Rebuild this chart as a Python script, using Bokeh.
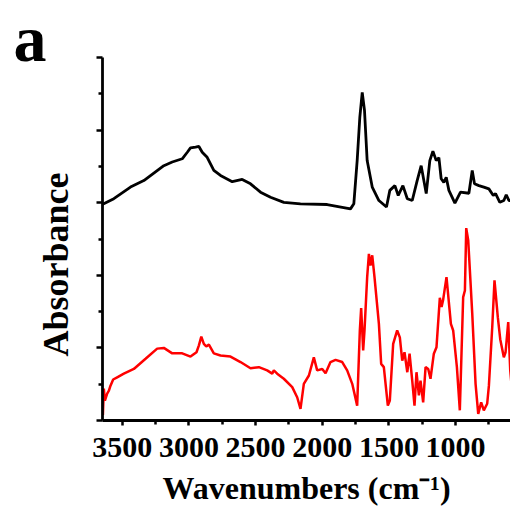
from bokeh.plotting import figure
from bokeh.models import Range1d, FixedTicker, Title
from bokeh.embed import file_html
from bokeh.resources import INLINE

# ---- data ----
black_wn = [3650, 3563, 3438, 3338, 3188, 3125, 3050, 3012, 2988, 2950, 2925, 2900, 2863, 2813,
            2763, 2675, 2600, 2538, 2463, 2388, 2288, 2163, 1963, 1788, 1763, 1738, 1718, 1700,
            1683, 1663, 1625, 1575, 1518, 1493, 1455, 1430, 1395, 1362, 1325, 1288, 1258, 1220,
            1193, 1170, 1145, 1125, 1108, 1088, 1070, 1050, 1005, 963, 900, 875, 858, 825, 788,
            750, 717, 700, 668, 638, 620, 600, 585]
black_abs = [5.95, 6.11, 6.43, 6.61, 7.02, 7.12, 7.21, 7.39, 7.51, 7.53, 7.55, 7.39, 7.25, 6.89,
             6.75, 6.58, 6.64, 6.52, 6.29, 6.15, 6.01, 5.97, 5.95, 5.83, 5.97, 7.16, 8.36, 9.04,
             8.54, 7.16, 6.43, 6.06, 5.88, 6.34, 6.47, 6.20, 6.47, 6.11, 6.06, 6.61, 7.02, 6.25,
             7.16, 7.42, 7.16, 7.24, 6.66, 6.56, 6.70, 6.34, 5.99, 6.29, 6.26, 6.89, 6.52, 6.47, 6.43,
             6.38, 6.20, 6.25, 6.01, 6.06, 6.22, 6.06, 6.06]

red_wn = [3645, 3638, 3630, 3613, 3600, 3588, 3568, 3538, 3488, 3413, 3325, 3238, 3188, 3125, 3050,
          2988, 2943, 2925, 2907, 2888, 2870, 2850, 2813, 2763, 2688, 2613, 2538, 2475, 2413,
          2375, 2363, 2338, 2288, 2225, 2188, 2163, 2138, 2100, 2063, 2038, 2000, 1975, 1938,
          1900, 1850, 1813, 1775, 1738, 1718, 1708, 1693, 1683, 1663, 1650, 1638, 1625, 1608,
          1575, 1558, 1538, 1508, 1493, 1468, 1438, 1418, 1400, 1383, 1362, 1345, 1325, 1308,
          1293, 1275, 1263, 1243, 1225, 1205, 1188, 1163, 1143, 1118, 1105, 1093, 1068, 1035,
          1018, 990, 968, 943, 930, 920, 905, 875, 850, 830, 808, 788, 763, 750, 725, 708,
          683, 665, 638, 625, 605, 590, 578]
red_abs = [0.15, 0.88, 0.55, 0.74, 0.82, 0.96, 1.13, 1.19, 1.29, 1.42, 1.70, 1.98, 2.00, 1.85, 1.85,
           1.76, 1.88, 2.07, 2.31, 2.11, 2.04, 2.09, 1.85, 1.79, 1.76, 1.61, 1.44, 1.47, 1.38,
           1.29, 1.38, 1.29, 1.15, 0.92, 0.64, 0.32, 1.01, 1.24, 1.74, 1.38, 1.42, 1.30, 1.61,
           1.67, 1.61, 1.38, 1.01, 0.41, 2.48, 3.10, 1.93, 2.48, 3.95, 4.59, 4.27, 4.55, 3.95,
           2.66, 1.56, 1.47, 0.41, 0.55, 2.11, 2.48, 2.29, 1.65, 1.88, 1.33, 1.84, 1.10, 0.41,
           1.33, 0.69, 1.10, 0.50, 1.47, 1.42, 1.15, 1.84, 2.02, 3.38, 3.13, 3.33, 3.95, 2.66,
           2.48, 1.47, 0.28, 3.40, 3.58, 5.30, 4.96, 2.95, 1.01, 0.18, 0.50, 0.28, 0.46, 0.96,
           2.57, 3.86, 2.84, 2.24, 1.74, 1.88, 2.71, 1.38, 0.90]

x_major = [3500, 3000, 2500, 2000, 1500, 1000]
x_minor = [3250, 2750, 2250, 1750, 1250, 750]
y_major = [0, 2, 4, 6, 8, 10]
y_minor = [1, 3, 5, 7, 9]

SERIF = "Liberation Serif"

p = figure(width=510, height=508, output_backend="svg", toolbar_location=None,
           x_range=Range1d(3648, 588), y_range=Range1d(0, 10),
           min_border_left=102, min_border_right=0, min_border_top=57, min_border_bottom=88)
p.outline_line_color = None
p.xgrid.visible = False
p.ygrid.visible = False

p.line(black_wn, black_abs, line_color="black", line_width=2.8)
p.line(red_wn, red_abs, line_color="#ff0000", line_width=2.5)

for ax in (p.xaxis[0], p.yaxis[0]):
    ax.axis_line_width = 2.8
    ax.axis_line_color = "black"
    ax.major_tick_line_width = 2.5
    ax.minor_tick_line_width = 2.5
    ax.major_tick_line_color = "black"
    ax.minor_tick_line_color = "black"
    ax.major_tick_in = 0
    ax.minor_tick_in = 0

p.xaxis.ticker = FixedTicker(ticks=x_major, minor_ticks=x_minor)
p.xaxis.major_tick_out = 5
p.xaxis.minor_tick_out = 4
p.xaxis.major_label_text_font = SERIF
p.xaxis.major_label_text_font_style = "bold"
p.xaxis.major_label_text_font_size = "30px"
p.xaxis.major_label_text_color = "black"
p.xaxis.major_label_standoff = 12
p.xaxis.axis_label = "Wavenumbers (cm\u207b\u00b9)"
p.xaxis.axis_label_text_font = SERIF
p.xaxis.axis_label_text_font_style = "bold"
p.xaxis.axis_label_text_font_size = "32px"
p.xaxis.axis_label_text_color = "black"
p.xaxis.axis_label_standoff = 10

p.yaxis.ticker = FixedTicker(ticks=y_major, minor_ticks=y_minor)
p.yaxis.major_tick_out = 6
p.yaxis.minor_tick_out = 4
p.yaxis.major_label_overrides = {v: "" for v in y_major}

# y title as a side-panel title (placed lower than the frame centre, as in the reference)
p.add_layout(Title(text="Absorbance", align="left", offset=64, standoff=42,
                   text_font=SERIF, text_font_style="bold", text_font_size="36px",
                   text_color="black"), "left")

# panel letter
p.add_layout(Title(text="a", align="left", offset=-89, standoff=-35,
                   text_font=SERIF, text_font_style="bold", text_font_size="66px",
                   text_color="black"), "above")

open("out.html", "w").write(file_html(p, INLINE))
